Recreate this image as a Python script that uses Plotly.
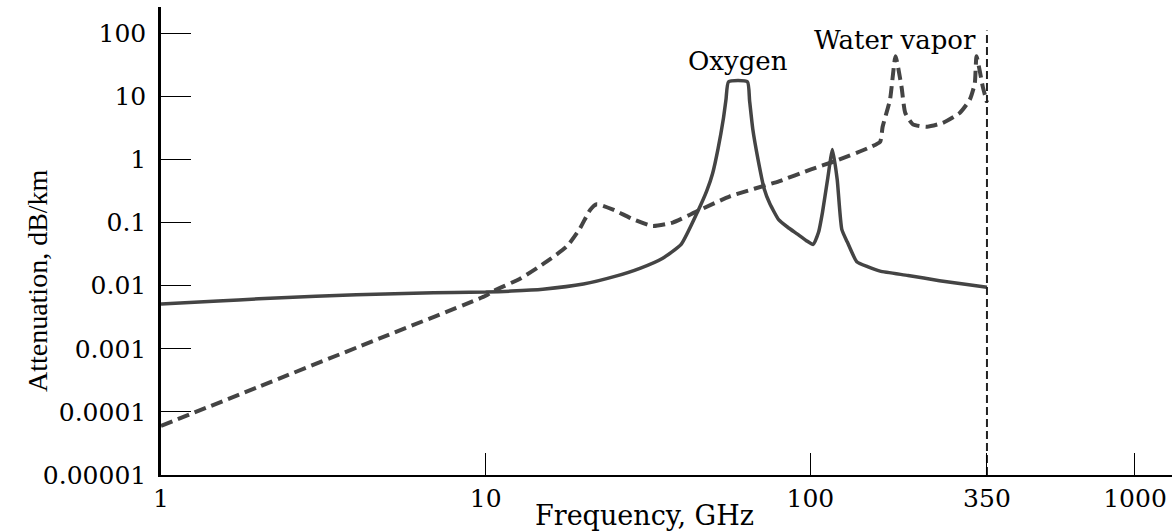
import numpy as np
import plotly.graph_objects as go

# ---- data (GHz, dB/km) ----
oxygen_freq = [1, 1.5, 2, 3, 4, 6, 8, 10, 12, 15, 20, 25, 30, 35, 40, 45, 48, 50,
               52, 54, 55, 56, 64, 65, 66.5, 69, 72, 75, 80, 85, 91, 97, 102, 106, 109,
               113, 117, 121, 125, 130, 139, 150, 164, 200, 250, 300, 350]
oxygen_att = [0.0051, 0.0057, 0.0062, 0.0068, 0.0072, 0.0076, 0.0078, 0.0079, 0.0082,
              0.0088, 0.0106, 0.014, 0.019, 0.027, 0.045, 0.15, 0.32, 0.6,
              1.5, 4.5, 9, 17, 17, 8.5, 3, 1.0, 0.35, 0.2, 0.11, 0.085, 0.066, 0.052,
              0.045, 0.07, 0.145, 0.48, 1.44, 0.48, 0.078, 0.049, 0.024, 0.02, 0.017,
              0.0145, 0.012, 0.0105, 0.0094]

water_freq = [1, 2, 5, 10, 10.5, 12.8, 15.4, 17.8, 19.5, 21, 22, 24.7, 28.4, 32.7, 37.7,
              44.7, 56.5, 80, 100, 120, 150, 164, 167, 176, 183, 191, 196, 207, 229,
              256, 289, 310, 321, 325, 340, 350]
water_att = [6.0e-5, 2.5e-4, 1.65e-3, 6.9e-3, 8.1e-3, 0.013, 0.024, 0.042, 0.08, 0.16,
             0.195, 0.16, 0.113, 0.088, 0.10, 0.15, 0.26, 0.45, 0.69, 0.95, 1.5, 1.9,
             3.3, 8.9, 43, 14, 5.5, 3.6, 3.3, 3.8, 5.5, 8.9, 16, 43, 14, 8]

cutoff_freq = [350, 350]
cutoff_att = [1e-5, 110]

x_tickvals = [1, 10, 100, 350, 1000]
x_ticktext = ["1", "10", "100", "350", "1000"]
y_tickvals = [100, 10, 1, 0.1, 0.01, 0.001, 0.0001, 0.00001]
y_ticktext = ["100", "10", "1", "0.1", "0.01", "0.001", "0.0001", "0.00001"]

LINE = "#444444"
SERIF = "DejaVu Serif"

fig = go.Figure()
fig.add_trace(go.Scatter(x=water_freq, y=water_att, mode="lines",
                         line=dict(color=LINE, width=4, dash="12px,6px", shape="spline",
                                   smoothing=0.5),
                         showlegend=False, hoverinfo="skip"))
fig.add_trace(go.Scatter(x=oxygen_freq, y=oxygen_att, mode="lines",
                         line=dict(color=LINE, width=3.5, shape="spline", smoothing=0.5),
                         showlegend=False, hoverinfo="skip"))
fig.add_trace(go.Scatter(x=cutoff_freq, y=cutoff_att, mode="lines",
                         line=dict(color="#222222", width=2, dash="8px,4px"),
                         showlegend=False, hoverinfo="skip"))

fig.update_layout(
    width=1172, height=531,
    margin=dict(l=161, r=0, t=7, b=56, autoexpand=False),
    paper_bgcolor="white", plot_bgcolor="white",
    font=dict(family=SERIF, color="black", size=25),
    xaxis=dict(type="log", range=[0, 3.114], tickvals=x_tickvals, ticktext=x_ticktext,
               ticks="inside", ticklen=22, tickwidth=1.3, tickcolor="black",
               showline=True, linecolor="black", linewidth=2, showgrid=False,
               zeroline=False, ticklabelstandoff=0, automargin=False,
               tickfont=dict(family=SERIF, size=25, color="black")),
    yaxis=dict(type="log", range=[-5, 2.415], tickvals=y_tickvals, ticktext=y_ticktext,
               ticks="inside", ticklen=30, tickwidth=1.3, tickcolor="black",
               showline=True, linecolor="black", linewidth=2.5, showgrid=False,
               zeroline=False, ticklabelstandoff=7, automargin=False,
               tickfont=dict(family=SERIF, size=25, color="black")),
    annotations=[
        dict(text="Oxygen", x=np.log10(59.8), y=1.564, xref="x", yref="y",
             xanchor="center", yanchor="middle",
             showarrow=False, font=dict(family=SERIF, size=26, color="black")),
        dict(text="Water vapor", x=2.26, y=1.896, xref="x", yref="y",
             xanchor="center", yanchor="middle",
             showarrow=False, font=dict(family=SERIF, size=26, color="black")),
        dict(text="Frequency, GHz", x=0.4787, y=-0.0855, xref="paper", yref="paper",
             xanchor="center", yanchor="middle",
             showarrow=False, font=dict(family=SERIF, size=27, color="black")),
        dict(text="Attenuation, dB/km", x=-0.1226, y=0.4145, xref="paper", yref="paper",
             xanchor="center", yanchor="middle", textangle=-90, showarrow=False,
             font=dict(family="Liberation Serif", size=28, color="black")),
    ],
)

fig.write_html("out.html", config={"displayModeBar": False},
               post_script="document.body.style.margin='0';document.body.style.overflow='hidden';")
